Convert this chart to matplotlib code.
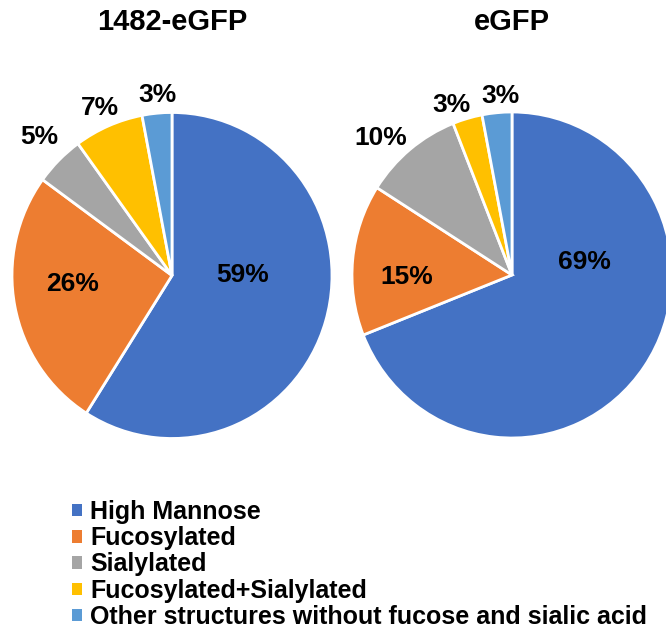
import matplotlib
matplotlib.use("Agg")
import matplotlib.pyplot as plt
from matplotlib.patches import Patch

categories = ["High Mannose", "Fucosylated", "Sialylated",
              "Fucosylated+Sialylated",
              "Other structures without fucose and sialic acid"]
titles = ["1482-eGFP", "eGFP"]
values_1482 = [59, 26, 5, 7, 3]
values_egfp = [69, 15, 10, 3, 3]
colors = ["#4472C4", "#ED7D31", "#A5A5A5", "#FFC000", "#5B9BD5"]

# label anchor points, in units of the pie radius
label_pos_1482 = [(0.44, 0.0), (-0.62, -0.055), (-0.83, 0.85), (-0.45, 1.03), (-0.09, 1.11)]
label_pos_egfp = [(0.45, 0.08), (-0.66, -0.01), (-0.82, 0.84), (-0.38, 1.04), (-0.07, 1.10)]

W, H = 666, 631
fig = plt.figure(figsize=(W / 100, H / 100), dpi=100)
plt.rcParams["font.family"] = ["Liberation Sans", "DejaVu Sans"]

RX, RY = 160, 163
centers = [(172, 275.5), (512, 275)]
series = [values_1482, values_egfp]
label_sets = [label_pos_1482, label_pos_egfp]

for (cx, cy), vals, labs, title in zip(centers, series, label_sets, titles):
    ax = fig.add_axes([(cx - RX) / W, (H - cy - RY) / H, 2 * RX / W, 2 * RY / H])
    ax.pie(vals, colors=colors, startangle=90, counterclock=False, radius=1,
           wedgeprops=dict(edgecolor="white", linewidth=2))
    ax.set_aspect("auto")
    ax.set_xlim(-1, 1)
    ax.set_ylim(-1, 1)
    ax.axis("off")
    for v, (lx, ly) in zip(vals, labs):
        ax.text(lx, ly, f"{v}%", ha="center", va="center",
                fontsize=19, fontweight="bold", color="black", clip_on=False)
    fig.text(cx / W, 1 - 22 / H, title, ha="center", va="center",
             fontsize=21, fontweight="bold")

handles = [Patch(facecolor=c, edgecolor="none") for c in colors]
fig.legend(handles, categories, loc="upper left",
           bbox_to_anchor=(72 / W, 1 - 500 / H), frameon=False,
           prop=dict(size=18, weight="bold"),
           handlelength=0.4, handleheight=0.4, handletextpad=0.32,
           labelspacing=0.09, borderaxespad=0, borderpad=0)

fig.savefig("out.png", dpi=100)
